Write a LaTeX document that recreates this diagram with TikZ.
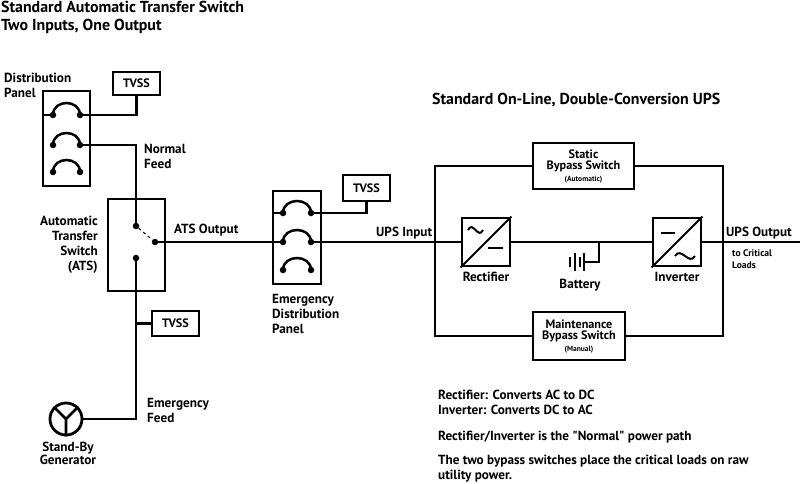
\documentclass[tikz,border=0pt]{standalone}
\usepackage{fontspec}
\setmainfont{PT Sans}[Ligatures=TeXOff]
\tikzset{
  wire/.style={line width=2.8pt},
  unit/.style={draw, line width=2.8pt, inner sep=0pt, align=center,
    font=\bfseries\fontsize{12.2}{11.5}\selectfont},
  term/.style={circle, fill, inner sep=0pt, minimum size=6.5pt},
  breaker/.style={line width=2.5pt},
  sym/.style={line width=2pt},
  lbl/.style={inner sep=0pt, font=\bfseries\fontsize{13.2}{15}\selectfont},
  title/.style={inner sep=0pt, font=\bfseries\fontsize{15.9}{18}\selectfont},
  small/.style={inner sep=0pt, font=\bfseries\fontsize{9.6}{12}\selectfont}
}
\begin{document}
\begin{tikzpicture}[x=1pt, y=-1pt]
    \useasboundingbox (0,0) rectangle (800,483);

    % titles
    \node[title, anchor=west, align=left] (atstitle) at (1,17) {Standard Automatic Transfer Switch\\Two Inputs, One Output};
    \node[title, anchor=west] (upstitle) at (432,100) {Standard On-Line, Double-Conversion UPS};

    % distribution panel
    \node[unit, minimum width=47pt, minimum height=95pt] (dpanel) at (66.5,138.5) {};
    \foreach \n/\y in {1/115,2/145,3/172} {
        \node[term] (dpl\n) at (53,\y) {};
        \node[term] (dpr\n) at (80,\y) {};
        \draw[breaker] (dpl\n.center) .. controls +(0,-16) and +(0,-16) .. (dpr\n.center);
    }
    \node[lbl, anchor=west, align=left] (dplabel) at (4,85) {Distribution\\Panel};
    \node[unit, minimum width=47pt, minimum height=23pt] (tvssa) at (136.5,83.5) {TVSS};

    % automatic transfer switch
    \node[unit, minimum width=57pt, minimum height=92pt] (ats) at (136.5,245) {};
    \node[term] (atsa) at (136,226) {};
    \node[term] (atssw) at (155,242) {};
    \node[term] (atsb) at (136,258) {};
    \draw[dashed, line width=1pt] (atsa) -- (atssw);
    \node[lbl, anchor=east, align=right] (atslabel) at (98,245) {Automatic\\Transfer\\Switch\\(ATS)};
    \node[lbl, anchor=west, align=left] (nflabel) at (144,156) {Normal\\Feed};
    \node[lbl, anchor=west] (atsout) at (174,230) {ATS Output};

    \draw[wire] (dpanel.west |- dpl1) -- (dpl1.center);
    \draw[wire] (dpr1.center) -| (tvssa.south);
    \draw[wire] (dpr2.center) -| (atsa.center);

    % stand-by generator
    \node[unit, minimum width=47pt, minimum height=25pt] (tvssc) at (175.5,323.5) {TVSS};
    \node[circle, draw, line width=2.8pt, minimum size=32pt, inner sep=0pt] (gen) at (66,419) {};
    \draw[wire] (gen.center) -- (gen.south) (gen.center) -- (gen.north west) (gen.center) -- (gen.north east);
    \draw[wire] (atsb.center) |- (gen.east);
    \draw[wire] (tvssc.west) -- (tvssc.west -| atsb);
    \node[lbl, anchor=west, align=left] (eflabel) at (147,410.5) {Emergency\\Feed};
    \node[lbl, align=center, font=\bfseries\fontsize{13.2}{13}\selectfont] (genlabel) at (68,453.5) {Stand-By\\Generator};

    % emergency distribution panel
    \node[unit, minimum width=48pt, minimum height=93pt] (epanel) at (297,237.5) {};
    \foreach \n/\y in {1/213,2/242,3/270} {
        \node[term] (edl\n) at (283,\y) {};
        \node[term] (edr\n) at (311,\y) {};
        \draw[breaker] (edl\n.center) .. controls +(0,-16) and +(0,-16) .. (edr\n.center);
    }
    \node[unit, minimum width=47pt, minimum height=26pt] (tvssb) at (366.5,188) {TVSS};
    \coordinate (upsin) at (435,242);
    \draw[wire] (epanel.west |- edl1) -- (edl1.center);
    \draw[wire] (edr1.center) -| (tvssb.south);
    \draw[wire] (atssw.center) -- (edl2.center);
    \draw[wire] (edr2.center) -- (upsin);
    \node[lbl, anchor=west] (upsinlabel) at (376,233) {UPS Input};
    \node[lbl, anchor=west, align=left] (eplabel) at (272,314) {Emergency\\Distribution\\Panel};

    % UPS
    \node[unit, minimum width=101pt, minimum height=46pt] (sbs) at (583.5,166) {Static\\Bypass Switch\\{\fontsize{7.5}{9}\selectfont (Automatic)}};
    \node[unit, minimum width=92pt, minimum height=48pt] (mbs) at (579,336) {Maintenance\\Bypass Switch\\{\fontsize{7.5}{9}\selectfont (Manual)}};
    \coordinate (ul) at (435,166);
    \coordinate (ll) at (435,336);
    \coordinate (ur) at (723,166);
    \coordinate (lr) at (723,336);
    \coordinate (upsout) at (800,242);
    \draw[wire] (sbs.west) -- (ul) -- (ll) -- (mbs.west);
    \draw[wire] (sbs.east) -- (ur) -- (lr) -- (mbs.east);

    \node[unit, minimum size=48pt] (rect) at (486,242) {};
    \node[unit, minimum size=48pt] (inv) at (677,242) {};
    \draw[wire] (upsin) -- (rect.west);
    \draw[wire] (rect.east) -- (inv.west);
    \draw[wire] (inv.east) -- (upsout);
    \draw[sym] (rect.south west) -- (rect.north east);
    \draw[sym] (468,230) .. controls (473,220) and (478,240) .. (483,230);
    \draw[sym] (488,248) -- (503,248);
    \draw[sym] (inv.south west) -- (inv.north east);
    \draw[sym] (661,233) -- (675,233);
    \draw[sym] (675,256) .. controls (681,246) and (689,266) .. (695,256);

    % battery
    \coordinate (battap) at (599,242);
    \coordinate (battend) at (584,262);
    \draw[wire] (battap) |- (battend);
    \foreach \x/\h in {570/5,575/9,580/5,584/9}
        \draw[line width=1.6pt] (\x,{262-\h}) -- (\x,{262+\h});

    \node[lbl] (rectlabel) at (486,277) {Rectifier};
    \node[lbl] (battlabel) at (580,285) {Battery};
    \node[lbl] (invlabel) at (677,277) {Inverter};
    \node[lbl, anchor=west] (upsoutlabel) at (726,233) {UPS Output};
    \node[small, anchor=west, align=left] (loadlabel) at (732,259) {to Critical\\Loads};

    % notes
    \node[lbl, anchor=west, align=left] (note1) at (438,402.5) {Rectifier: Converts AC to DC\\Inverter: Converts DC to AC};
    \node[lbl, anchor=west] (note2) at (438,437) {Rectifier/Inverter is the "Normal" power path};
    \node[lbl, anchor=west, align=left] (note3) at (438,469) {The two bypass switches place the critical loads on raw\\utility power.};
\end{tikzpicture}
\end{document}
